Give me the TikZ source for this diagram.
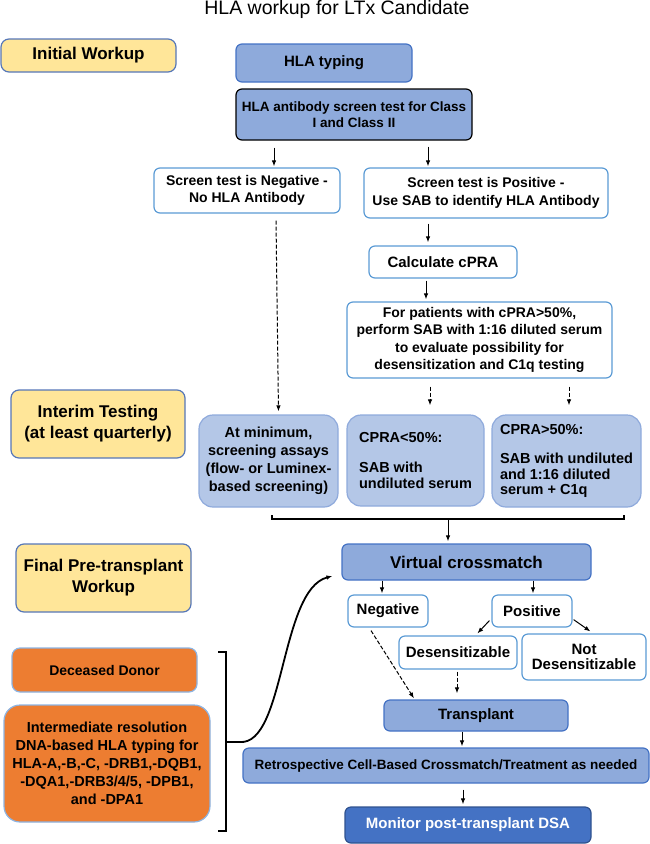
\documentclass[tikz,border=0pt]{standalone}
\usepackage{fontspec}
\setmainfont{Liberation Sans}
\usetikzlibrary{arrows.meta}

\definecolor{phasefill}{HTML}{FFE699}
\definecolor{phaseline}{HTML}{5677B8}
\definecolor{stepfill}{HTML}{8EAADB}
\definecolor{stepline}{HTML}{4472C4}
\definecolor{resultline}{HTML}{5B9BD5}
\definecolor{assayfill}{HTML}{B4C7E7}
\definecolor{assayline}{HTML}{8FAADC}
\definecolor{donorfill}{HTML}{ED7D31}
\definecolor{donorline}{HTML}{8DB4E2}
\definecolor{monitorline}{HTML}{2F528F}

\newcommand{\titlefont}{\fontsize{19.5}{23}\selectfont}
\newcommand{\phasefont}{\fontsize{17}{21}\selectfont\bfseries}
\newcommand{\boxfont}{\fontsize{14}{17.5}\selectfont\bfseries}
\newcommand{\midfont}{\fontsize{15}{18}\selectfont\bfseries}
\newcommand{\smallfont}{\fontsize{13.5}{16}\selectfont\bfseries}
\newcommand{\assayfont}{\fontsize{14.5}{15.5}\selectfont\bfseries}

\tikzset{
    box/.style={draw, rounded corners=6pt, line width=1.2pt, align=center, inner sep=0pt, font=\boxfont},
    phasebox/.style={box, rounded corners=8pt, fill=phasefill, draw=phaseline, font=\phasefont},
    stepbox/.style={box, fill=stepfill, draw=stepline},
    resultbox/.style={box, fill=white, draw=resultline},
    assaybox/.style={box, rounded corners=14pt, fill=assayfill, draw=assayline},
    donorbox/.style={box, rounded corners=8pt, fill=donorfill, draw=donorline},
    arr/.style={-{Latex[length=6pt,width=4.5pt]}, line width=1pt},
    darr/.style={arr, dash pattern=on 4pt off 2pt}
}

\begin{document}
\begin{tikzpicture}[x=1pt,y=-1pt]
    \useasboundingbox (0,0) rectangle (650,844);
    % title
    \node[font=\titlefont] (title) at (337,9.5) {HLA workup for LTx Candidate};
    % phase labels on the left
    \node[phasebox, minimum width=175pt, minimum height=33pt] (initial) at (88.5,55.5) {Initial Workup};
    \node[phasebox, minimum width=174pt, minimum height=68pt] (interim) at (98,424) {Interim Testing\\(at least quarterly)};
    \node[phasebox, minimum width=175pt, minimum height=68pt] (final) at (103.5,578) {Final Pre-transplant\\Workup};
    % initial workup
    \node[stepbox, minimum width=176pt, minimum height=38pt, font=\midfont] (typing) at (324,63) {HLA typing};
    \node[stepbox, draw=black, minimum width=236pt, minimum height=51pt, font=\smallfont] (screen) at (354,114.5)
        {HLA antibody screen test for Class\\I and Class II};
    \node[resultbox, minimum width=186pt, minimum height=45pt] (neg) at (247,190.5) {Screen test is Negative -\\No HLA Antibody};
    \node[resultbox, minimum width=244pt, minimum height=50pt] (pos) at (486,193) {Screen test is Positive -\\Use SAB to identify HLA Antibody};
    \node[resultbox, minimum width=148pt, minimum height=32pt, font=\midfont] (cpra) at (443,262) {Calculate cPRA};
    \node[resultbox, minimum width=265pt, minimum height=76pt] (patients) at (479.5,340)
        {For patients with cPRA>50\%,\\perform SAB with 1:16 diluted serum\\to evaluate possibility for\\desensitization and C1q testing};
    % interim testing
    \node[assaybox, minimum width=139pt, minimum height=92pt, font=\fontsize{14.5}{18}\selectfont\bfseries] (minimum) at (268.5,461)
        {At minimum,\\screening assays\\(flow- or Luminex-\\based screening)};
    \node[assaybox, minimum width=137pt, minimum height=91pt, align=left, font=\assayfont] (low) at (415.5,460.5)
        {CPRA<50\%:\\[14.5pt]SAB with\\undiluted serum};
    \node[assaybox, minimum width=149pt, minimum height=92pt, align=left, font=\assayfont] (high) at (566.5,461)
        {CPRA>50\%:\\[13.5pt]SAB with undiluted\\and 1:16 diluted\\serum + C1q};
    % final workup
    \node[stepbox, minimum width=249pt, minimum height=36pt, font=\phasefont] (virtual) at (466.5,562) {Virtual crossmatch};
    \node[resultbox, minimum width=80pt, minimum height=32pt, font=\midfont] (vneg) at (388,611) {Negative};
    \node[resultbox, minimum width=80pt, minimum height=32pt, font=\midfont] (vpos) at (532,611) {Positive};
    \node[resultbox, minimum width=118pt, minimum height=33pt, font=\midfont] (desens) at (458,652.5) {Desensitizable};
    \node[resultbox, minimum width=124pt, minimum height=46pt, font=\fontsize{15}{14.5}\selectfont\bfseries] (notdesens) at (584,657) {Not\\Desensitizable};
    \node[stepbox, minimum width=184pt, minimum height=31pt, font=\midfont] (transplant) at (476,715.5) {Transplant};
    \node[stepbox, minimum width=406pt, minimum height=35pt, font=\smallfont] (retro) at (446,765.5)
        {Retrospective Cell-Based Crossmatch/Treatment as needed};
    \node[stepbox, fill=stepline, draw=monitorline, text=white, minimum width=246pt, minimum height=36pt, font=\midfont] (monitor) at (468,825)
        {Monitor post-transplant DSA};
    % donor typing
    \node[donorbox, minimum width=185pt, minimum height=44pt] (deceased) at (104.5,670) {Deceased Donor};
    \node[donorbox, rounded corners=16pt, minimum width=206pt, minimum height=117pt, font=\fontsize{14.5}{18}\selectfont\bfseries] (dna) at (107,763.5)
        {Intermediate resolution\\DNA-based HLA typing for\\HLA-A,-B,-C, -DRB1,-DQB1,\\-DQA1,-DRB3/4/5, -DPB1,\\and -DPA1};

    % arrows of the initial workup
    \draw[arr] ([xshift=-80pt,yshift=-7pt]screen.south) -- ([xshift=-80pt,yshift=1pt]screen.south |- neg.north);
    \draw[arr] ([xshift=74pt,yshift=-6pt]screen.south) -- ([xshift=74pt,yshift=1pt]screen.south |- pos.north);
    \draw[arr] ([xshift=-15pt,yshift=-5pt]cpra.north |- pos.south) -- ([xshift=-15pt,yshift=3pt]cpra.north);
    \draw[arr] ([xshift=-17pt,yshift=-2pt]cpra.south) -- ([xshift=-17pt,yshift=2pt]cpra.south |- patients.north);
    % dashed arrows into interim testing
    \draw[darr] ([xshift=29pt,yshift=-7pt]neg.south) -- ([xshift=10pt,yshift=3pt]minimum.north);
    \draw[darr] ([xshift=14.5pt,yshift=-8pt]low.north |- patients.south) -- ([xshift=14.5pt,yshift=9pt]low.north);
    \draw[darr] ([xshift=2.5pt,yshift=-8pt]high.north |- patients.south) -- ([xshift=2.5pt,yshift=9pt]high.north);
    % bracket under the assays
    \coordinate (bl) at (272,519);
    \coordinate (br) at (624,519);
    \draw[line width=1.2pt] ([yshift=4pt]bl) -- (bl) -- (br) -- ([yshift=4pt]br);
    \draw[arr] ([xshift=-18.5pt]virtual.north |- bl) -- ([xshift=-18.5pt,yshift=2pt]virtual.north);
    % crossmatch results
    \draw[arr] ([xshift=-6pt]vneg.north |- virtual.south) -- ([xshift=-6pt,yshift=1pt]vneg.north);
    \draw[arr] ([xshift=1pt]vpos.north |- virtual.south) -- ([xshift=1pt,yshift=1pt]vpos.north);
    \draw[arr] ([xshift=-2pt,yshift=7pt]vpos.south west) -- ([xshift=79pt,yshift=2pt]desens.north west);
    \draw[arr] ([xshift=1pt,yshift=8pt]vpos.south east) -- ([xshift=69pt,yshift=2pt]notdesens.north west);
    \draw[darr] ([xshift=-17pt,yshift=-3pt]vneg.south) -- ([xshift=-62pt,yshift=1pt]transplant.north);
    \draw[darr] ([xshift=-1pt,yshift=-2pt]desens.south) -- ([xshift=-19pt,yshift=6pt]transplant.north);
    \draw[arr] ([xshift=-14pt]transplant.south) -- ([xshift=-14pt,yshift=1pt]transplant.south |- retro.north);
    \draw[arr] ([xshift=17pt,yshift=-6pt]retro.south) -- ([xshift=17pt,yshift=2pt]retro.south |- monitor.north);
    % bracket round the donor typing
    \coordinate (dtop) at (226,652);
    \coordinate (dbot) at (226,831);
    \coordinate (dmid) at (226,742);
    \draw[line width=1.2pt] ([xshift=-8pt]dtop) -- (dtop) -- (dbot) -- ([xshift=-8pt]dbot);
    \draw[line width=1.2pt] (dmid) -- ([xshift=14pt]dmid) coordinate (dout);
    \draw[arr, line width=1.8pt] (dout) .. controls (285,745) and (280,590) .. ([xshift=-9pt,yshift=-14pt]virtual.west);
\end{tikzpicture}
\end{document}
